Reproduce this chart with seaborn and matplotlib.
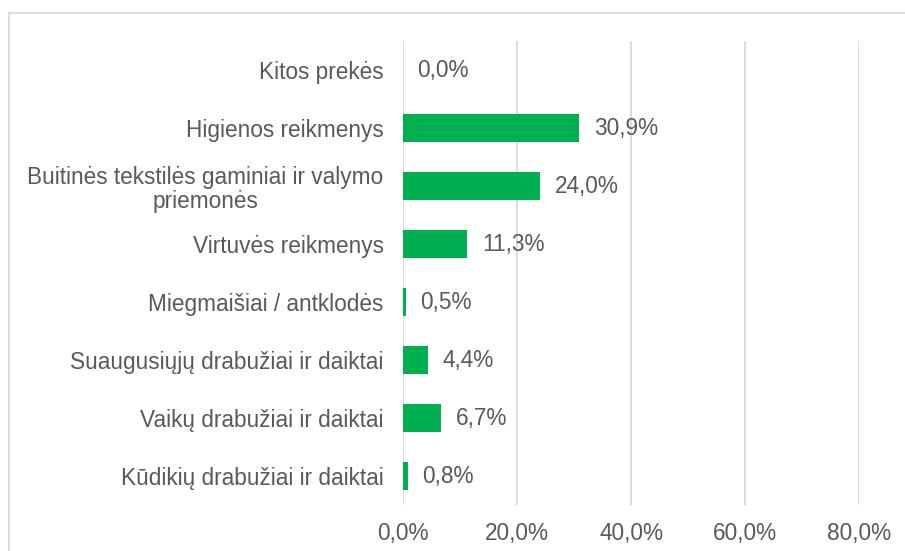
import matplotlib
matplotlib.use("Agg")
import matplotlib.pyplot as plt
import matplotlib.lines as mlines
import seaborn as sns
import pandas as pd

# ------------------------
# data
# ------------------------
categories = [
    "Kitos prekės",
    "Higienos reikmenys",
    "Buitinės tekstilės gaminiai ir valymo\npriemonės",
    "Virtuvės reikmenys",
    "Miegmaišiai / antklodės",
    "Suaugusiųjų drabužiai ir daiktai",
    "Vaikų drabužiai ir daiktai",
    "Kūdikių drabužiai ir daiktai",
]
values = [0.0, 30.9, 24.0, 11.3, 0.5, 4.4, 6.7, 0.8]
x_ticks = [0, 20, 40, 60, 80]

dta = pd.DataFrame({"cat": categories, "val": values})

# ------------------------
# plot
# ------------------------
sns.set_style("white")
plt.rcParams["font.family"] = ["Liberation Sans", "DejaVu Sans"]
TEXT = "#595959"
GRID = "#D9D9D9"
FS = 16.3

fig = plt.figure(figsize=(9.05, 5.51), dpi=100)
ax = fig.add_axes([403 / 905, 1 - 505 / 551, (859 - 403) / 905, (505 - 41) / 551])

sns.barplot(data=dta, x="val", y="cat", orient="h", color="#00B050",
            width=0.48, saturation=1, linewidth=0, ax=ax)

ax.set_xlim(0, 80)
ax.set_xticks(x_ticks)
ax.set_xticklabels([f"{t:.1f}%".replace(".", ",") for t in x_ticks])
ax.set_xlabel("")
ax.set_ylabel("")
for t in x_ticks:
    ax.axvline(t, color=GRID, lw=1.3, zorder=0)
for s in ax.spines.values():
    s.set_visible(False)
ax.tick_params(axis="both", length=0, labelsize=FS, colors=TEXT)
ax.tick_params(axis="x", pad=12)
ax.tick_params(axis="y", pad=14)
for lbl in ax.get_yticklabels():
    lbl.set_horizontalalignment("right")
    lbl.set_multialignment("center")
    lbl.set_linespacing(1.1)

for i, v in enumerate(values):
    ax.annotate(f"{v:.1f}%".replace(".", ","), (v, i), xytext=(10.5, 0),
                textcoords="offset points", va="center", ha="left",
                fontsize=FS, color=TEXT)

# chart frame (cut by image edge)
fx = 8.5 / 905
fy = 1 - 12.5 / 551
fig.add_artist(mlines.Line2D([fx, 1.01], [fy, fy], color=GRID, lw=1.3,
                             transform=fig.transFigure))
fig.add_artist(mlines.Line2D([fx, fx], [-0.01, fy], color=GRID, lw=1.3,
                             transform=fig.transFigure))

fig.savefig("out.png", dpi=100)
